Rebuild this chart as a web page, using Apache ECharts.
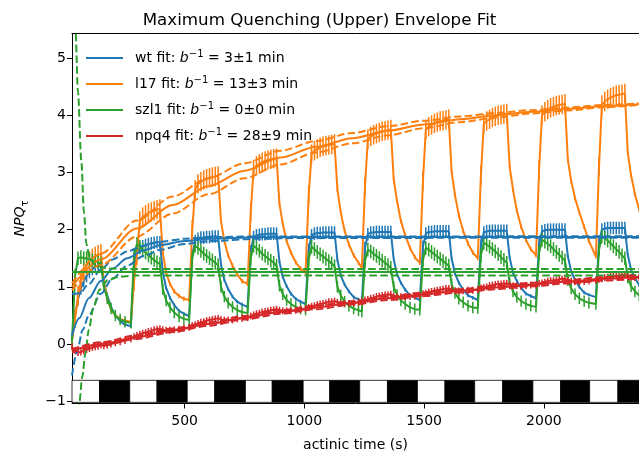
<!DOCTYPE html>
<html>
<head>
<meta charset="utf-8">
<script src="https://cdn.jsdelivr.net/npm/echarts@6/dist/echarts.min.js"></script>
<style>
  html, body { margin: 0; padding: 0; background: #fff; }
  #chart { width: 639px; height: 460px; }
</style>
</head>
<body>
<div id="chart"></div>
<script>
// ---- actinic light protocol (s): light on / light off times ----
const lightOn  = [25, 271, 511, 754, 995, 1231, 1472, 1711, 1954, 2191];
const lightOff = [145, 385, 626, 866, 1106, 1347, 1587, 1828, 2070, 2309];
const protocolEnd = 2440;

// start time of each measured cycle (s) and sample times relative to it
const cycleStart = [25, 271, 514, 758, 1000, 1235, 1477, 1719, 1962, 2212];
const sampleOffsets = [5, 18, 30, 42, 54, 66, 78, 90, 102, 114, 126, 138, 152, 168, 186, 206, 226];

// ---- measured NPQ per cycle (one row per light/dark cycle) ----
const wtValues = [
  [0.12, 0.50, 0.78, 0.97, 1.10, 1.19, 1.26, 1.31, 1.35, 1.38, 1.41, 1.05, 0.85, 0.65, 0.50, 0.40, 0.34],
  [0.31, 1.35, 1.62, 1.68, 1.71, 1.73, 1.75, 1.76, 1.77, 1.78, 1.78, 1.26, 0.98, 0.81, 0.68, 0.58, 0.53],
  [0.49, 1.55, 1.80, 1.84, 1.86, 1.86, 1.87, 1.87, 1.88, 1.88, 1.88, 1.39, 1.12, 0.96, 0.83, 0.74, 0.69],
  [0.65, 1.62, 1.87, 1.90, 1.91, 1.92, 1.92, 1.93, 1.93, 1.93, 1.93, 1.44, 1.17, 1.01, 0.88, 0.79, 0.74],
  [0.70, 1.65, 1.90, 1.93, 1.94, 1.94, 1.95, 1.95, 1.95, 1.95, 1.95, 1.47, 1.20, 1.04, 0.92, 0.82, 0.78],
  [0.74, 1.68, 1.92, 1.95, 1.95, 1.96, 1.96, 1.96, 1.96, 1.96, 1.96, 1.48, 1.22, 1.07, 0.95, 0.85, 0.81],
  [0.77, 1.70, 1.93, 1.96, 1.96, 1.97, 1.97, 1.97, 1.97, 1.97, 1.97, 1.49, 1.23, 1.07, 0.95, 0.85, 0.81],
  [0.77, 1.72, 1.95, 1.97, 1.98, 1.98, 1.98, 1.98, 1.98, 1.98, 1.98, 1.51, 1.25, 1.10, 0.98, 0.88, 0.84],
  [0.80, 1.75, 1.97, 1.99, 2.00, 2.00, 2.00, 2.00, 2.00, 2.00, 2.00, 1.53, 1.27, 1.12, 1.00, 0.90, 0.86],
  [0.82, 1.78, 2.00, 2.02, 2.03, 2.03, 2.03, 2.03, 2.03, 2.03, 2.03, 1.56, 1.30, 1.15, 1.03, 0.93, 0.89]
];
const l17Values = [
  [0.05, 0.45, 0.85, 1.10, 1.27, 1.38, 1.45, 1.50, 1.53, 1.56, 1.58, 1.10, 0.80, 0.60, 0.50, 0.44, 0.41],
  [0.39, 1.10, 1.55, 2.15, 2.22, 2.26, 2.29, 2.31, 2.33, 2.35, 2.36, 1.60, 1.25, 1.05, 0.92, 0.84, 0.79],
  [0.77, 2.00, 2.70, 2.80, 2.84, 2.87, 2.89, 2.91, 2.92, 2.93, 2.94, 2.15, 1.80, 1.55, 1.37, 1.22, 1.10],
  [1.05, 2.30, 3.05, 3.12, 3.15, 3.18, 3.20, 3.22, 3.23, 3.24, 3.25, 2.45, 2.10, 1.80, 1.60, 1.43, 1.32],
  [1.25, 2.60, 3.32, 3.38, 3.41, 3.44, 3.46, 3.47, 3.48, 3.49, 3.50, 2.70, 2.30, 1.98, 1.74, 1.55, 1.42],
  [1.33, 2.75, 3.58, 3.63, 3.66, 3.68, 3.70, 3.72, 3.73, 3.74, 3.75, 2.88, 2.50, 2.15, 1.90, 1.68, 1.52],
  [1.42, 2.85, 3.75, 3.80, 3.83, 3.86, 3.88, 3.90, 3.91, 3.92, 3.93, 3.00, 2.60, 2.25, 1.98, 1.76, 1.60],
  [1.50, 2.95, 3.85, 3.90, 3.93, 3.96, 3.98, 4.00, 4.01, 4.02, 4.03, 3.10, 2.70, 2.33, 2.05, 1.82, 1.66],
  [1.55, 3.05, 4.00, 4.06, 4.10, 4.13, 4.15, 4.17, 4.18, 4.19, 4.20, 3.22, 2.85, 2.55, 2.30, 2.05, 1.80],
  [1.53, 3.10, 4.18, 4.24, 4.28, 4.31, 4.33, 4.35, 4.36, 4.37, 4.38, 3.35, 2.95, 2.62, 2.35, 2.10, 1.85]
];
const szl1Values = [
  [0.05, 1.20, 1.50, 1.52, 1.50, 1.50, 1.48, 1.46, 1.45, 1.43, 1.40, 1.00, 0.80, 0.62, 0.50, 0.43, 0.39],
  [0.37, 1.55, 1.75, 1.70, 1.65, 1.60, 1.55, 1.51, 1.47, 1.43, 1.40, 0.96, 0.76, 0.64, 0.55, 0.48, 0.44],
  [0.42, 1.50, 1.72, 1.68, 1.63, 1.58, 1.54, 1.50, 1.46, 1.42, 1.38, 1.00, 0.83, 0.72, 0.65, 0.59, 0.56],
  [0.54, 1.50, 1.72, 1.68, 1.63, 1.58, 1.54, 1.50, 1.46, 1.42, 1.37, 1.02, 0.87, 0.77, 0.70, 0.65, 0.62],
  [0.60, 1.48, 1.70, 1.66, 1.61, 1.57, 1.53, 1.49, 1.45, 1.41, 1.36, 1.00, 0.85, 0.74, 0.67, 0.62, 0.59],
  [0.57, 1.45, 1.65, 1.62, 1.58, 1.54, 1.50, 1.46, 1.42, 1.38, 1.33, 1.00, 0.86, 0.76, 0.70, 0.64, 0.61],
  [0.60, 1.47, 1.68, 1.65, 1.61, 1.57, 1.53, 1.49, 1.45, 1.41, 1.37, 1.04, 0.89, 0.79, 0.73, 0.67, 0.64],
  [0.63, 1.55, 1.77, 1.74, 1.70, 1.66, 1.62, 1.57, 1.52, 1.47, 1.42, 1.07, 0.92, 0.82, 0.75, 0.70, 0.67],
  [0.65, 1.60, 1.82, 1.79, 1.75, 1.71, 1.66, 1.61, 1.56, 1.51, 1.46, 1.12, 0.97, 0.87, 0.80, 0.75, 0.72],
  [0.70, 1.65, 1.88, 1.85, 1.81, 1.76, 1.71, 1.66, 1.61, 1.55, 1.50, 1.16, 1.01, 0.92, 0.85, 0.80, 0.77]
];
const npq4Values = [
  [-0.05, -0.12, -0.15, -0.14, -0.12, -0.10, -0.08, -0.06, -0.05, -0.04, -0.02, -0.03, -0.02, 0.00, 0.02, 0.04, 0.06],
  [0.09, 0.13, 0.15, 0.17, 0.19, 0.20, 0.22, 0.23, 0.25, 0.26, 0.27, 0.25, 0.24, 0.24, 0.25, 0.26, 0.28],
  [0.29, 0.32, 0.34, 0.36, 0.38, 0.39, 0.41, 0.42, 0.43, 0.44, 0.45, 0.43, 0.42, 0.42, 0.42, 0.44, 0.45],
  [0.46, 0.49, 0.51, 0.53, 0.54, 0.56, 0.57, 0.58, 0.59, 0.60, 0.61, 0.59, 0.58, 0.58, 0.58, 0.59, 0.60],
  [0.61, 0.64, 0.66, 0.67, 0.69, 0.70, 0.71, 0.72, 0.74, 0.74, 0.75, 0.73, 0.71, 0.71, 0.71, 0.72, 0.73],
  [0.74, 0.77, 0.78, 0.80, 0.81, 0.83, 0.84, 0.85, 0.86, 0.86, 0.87, 0.84, 0.83, 0.83, 0.83, 0.83, 0.84],
  [0.85, 0.88, 0.89, 0.91, 0.92, 0.93, 0.94, 0.95, 0.96, 0.97, 0.97, 0.95, 0.93, 0.93, 0.93, 0.94, 0.94],
  [0.95, 0.98, 0.99, 1.00, 1.02, 1.03, 1.04, 1.05, 1.05, 1.06, 1.06, 1.04, 1.02, 1.02, 1.01, 1.02, 1.03],
  [1.03, 1.06, 1.07, 1.08, 1.10, 1.11, 1.11, 1.12, 1.13, 1.14, 1.14, 1.11, 1.10, 1.09, 1.09, 1.09, 1.10],
  [1.11, 1.13, 1.14, 1.16, 1.17, 1.18, 1.19, 1.19, 1.20, 1.21, 1.21, 1.18, 1.17, 1.16, 1.16, 1.16, 1.17]
];

// error-bar half widths: [during light, during dark]
const wtErr   = [0.11, 0.03];
const l17Err  = [0.17, 0.04];
const szl1Err = [0.12, 0.10];
const npq4Err = [0.06, 0.06];

// ---- upper-envelope fits [t, NPQ] with lower / upper confidence curves ----
const wtFit   = [[30,0.15],[60,0.45],[100,0.80],[150,1.10],[200,1.32],[260,1.50],[330,1.64],[400,1.73],[500,1.80],[600,1.84],[800,1.865],[1000,1.87],[2440,1.87]];
const wtFitLo = [[30,-0.55],[50,-0.15],[75,0.25],[100,0.50],[150,0.88],[200,1.15],[260,1.37],[330,1.54],[400,1.65],[500,1.75],[600,1.80],[800,1.84],[1000,1.855],[2440,1.86]];
const wtFitHi = [[30,0.88],[50,0.88],[65,0.90],[100,1.05],[150,1.30],[200,1.48],[260,1.62],[330,1.72],[400,1.79],[500,1.84],[600,1.87],[800,1.88],[2440,1.885]];

const l17Fit   = [[30,1.00],[150,1.48],[300,2.02],[450,2.43],[600,2.76],[750,3.03],[900,3.26],[1050,3.45],[1200,3.60],[1350,3.73],[1500,3.84],[1650,3.93],[1800,4.00],[1950,4.06],[2100,4.11],[2250,4.16],[2440,4.21]];
const l17FitHi = [[30,1.06],[150,1.58],[300,2.16],[450,2.58],[600,2.90],[750,3.16],[900,3.38],[1050,3.55],[1200,3.69],[1350,3.81],[1500,3.905],[1650,3.98],[1800,4.04],[1950,4.09],[2100,4.135],[2250,4.18],[2440,4.22]];
const l17FitLo = [[30,0.94],[150,1.38],[300,1.88],[450,2.28],[600,2.62],[750,2.90],[900,3.14],[1050,3.35],[1200,3.51],[1350,3.65],[1500,3.775],[1650,3.88],[1800,3.96],[1950,4.03],[2100,4.085],[2250,4.14],[2440,4.20]];

const szl1Fit   = [[30,1.26],[2440,1.26]];
const szl1FitHi = [[38,7.5],[45,5.43],[55,4.40],[69,3.20],[80,2.30],[90,1.75],[104,1.50],[130,1.37],[180,1.32],[260,1.31],[2440,1.31]];
const szl1FitLo = [[50,-2.5],[60,-1.05],[73,-0.57],[86,-0.16],[100,0.25],[120,0.65],[145,0.95],[180,1.12],[230,1.18],[300,1.20],[2440,1.20]];

const npq4Fit   = [[30,-0.12],[150,0.00],[300,0.12],[450,0.24],[600,0.35],[750,0.46],[900,0.56],[1050,0.64],[1200,0.72],[1350,0.80],[1500,0.87],[1650,0.93],[1800,0.99],[1950,1.04],[2100,1.09],[2250,1.14],[2440,1.19]];
const npq4FitHi = [[30,-0.09],[150,0.03],[300,0.15],[450,0.27],[600,0.38],[750,0.49],[900,0.59],[1050,0.67],[1200,0.75],[1350,0.83],[1500,0.90],[1650,0.96],[1800,1.02],[1950,1.07],[2100,1.12],[2250,1.17],[2440,1.22]];
const npq4FitLo = [[30,-0.15],[150,-0.03],[300,0.09],[450,0.21],[600,0.32],[750,0.43],[900,0.53],[1050,0.61],[1200,0.69],[1350,0.77],[1500,0.84],[1650,0.90],[1800,0.96],[1950,1.01],[2100,1.06],[2250,1.11],[2440,1.16]];

// ---- labels ----
const genotypes = ['wt', 'l17', 'szl1', 'npq4'];
const lifetimes = ['3±1', '13±3', '0±0', '28±9'];
const colors = ['#1f77b4', '#ff7f0e', '#2ca02c', '#d62728'];
const xTicks = [500, 1000, 1500, 2000];
const yTicks = [-1, 0, 1, 2, 3, 4, 5];

const X_MIN = 30, X_MAX = 2397;
const Y_MIN = -1.04, Y_MAX = 5.43;
const BAR_TOP = -0.635, BAR_BOTTOM = -1.02;
const FONT = 'DejaVu Sans';

function buildSeries(values, err) {
  const line = [], bars = [];
  values.forEach((cycle, k) => {
    cycle.forEach((v, j) => {
      const t = cycleStart[k] + sampleOffsets[j];
      line.push([t, v]);
      const e = (j >= 1 && j <= 10) ? err[0] : err[1];
      bars.push([t, v - e, v + e]);
    });
  });
  return { line, bars };
}

const measured = [
  buildSeries(wtValues, wtErr),
  buildSeries(l17Values, l17Err),
  buildSeries(szl1Values, szl1Err),
  buildSeries(npq4Values, npq4Err)
];
const fits = [
  [wtFit, wtFitLo, wtFitHi],
  [l17Fit, l17FitLo, l17FitHi],
  [szl1Fit, szl1FitLo, szl1FitHi],
  [npq4Fit, npq4FitLo, npq4FitHi]
];
const fitNames = genotypes.map(g => g + ' fit');

// light / dark strip along the bottom
const strip = [];
lightOn.forEach((on, k) => {
  strip.push([on, lightOff[k], 0]);
  strip.push([lightOff[k], k + 1 < lightOn.length ? lightOn[k + 1] : protocolEnd, 1]);
});

function clampX(v) { return Math.max(X_MIN, Math.min(X_MAX, v)); }

const series = [];
series.push({
  type: 'custom', name: 'light', silent: true, z: 1,
  data: strip,
  renderItem(params, api) {
    const a = api.coord([clampX(api.value(0)), BAR_TOP]);
    const b = api.coord([clampX(api.value(1)), BAR_BOTTOM]);
    const dark = api.value(2) === 1;
    return {
      type: 'rect',
      shape: { x: a[0], y: a[1], width: b[0] - a[0], height: b[1] - a[1] },
      style: { fill: dark ? '#000' : '#fff', stroke: '#000', lineWidth: 0.8 }
    };
  }
});

genotypes.forEach((g, i) => {
  const c = colors[i];
  series.push({
    type: 'line', name: g, data: measured[i].line, symbol: 'none', showSymbol: false,
    lineStyle: { color: c, width: 2 }, itemStyle: { color: c }, z: 3 + i, silent: true
  });
  series.push({
    type: 'custom', name: g + ' err', data: measured[i].bars, silent: true, z: 3 + i,
    renderItem(params, api) {
      const a = api.coord([api.value(0), api.value(1)]);
      const b = api.coord([api.value(0), api.value(2)]);
      return { type: 'line', shape: { x1: a[0], y1: a[1], x2: b[0], y2: b[1] },
               style: { stroke: c, lineWidth: 1.5 } };
    }
  });
  const [fit, lo, hi] = fits[i];
  series.push({
    type: 'line', name: fitNames[i], data: fit, symbol: 'none', showSymbol: false,
    smooth: 0.3, smoothMonotone: 'x',
    lineStyle: { color: c, width: 2 }, itemStyle: { color: c }, z: 8 + i, silent: true
  });
  [lo, hi].forEach(b => series.push({
    type: 'line', name: g + ' bound', data: b, symbol: 'none', showSymbol: false,
    smooth: 0.3, smoothMonotone: 'x',
    lineStyle: { color: c, width: 2, type: [7.5, 3.3] }, itemStyle: { color: c }, z: 8 + i, silent: true
  }));
});

const chart = echarts.init(document.getElementById('chart'), null, { renderer: 'canvas' });
const minus = v => String(v).replace('-', '\u2212');

chart.setOption({
  animation: false,
  backgroundColor: '#fff',
  title: {
    text: 'Maximum Quenching (Upper) Envelope Fit',
    left: 'center', top: 7,
    textStyle: { fontFamily: FONT, fontSize: 16.7, fontWeight: 'normal', color: '#000' }
  },
  grid: { left: 72, top: 33.5, right: 0, height: 370 },
  legend: {
    data: fitNames.map(n => ({ name: n, icon: 'rect' })),
    orient: 'vertical', left: 86, top: 49, padding: 0,
    itemWidth: 37, itemHeight: 2, itemGap: 10,
    formatter: name => {
      const i = fitNames.indexOf(name);
      return '{p|}{t|' + genotypes[i] + ' fit: }{b|b}{s|\u22121}{t| = ' + lifetimes[i] + ' min}';
    },
    textStyle: {
      fontFamily: FONT, fontSize: 14, color: '#000',
      rich: {
        p: { width: 7 },
        t: { fontFamily: FONT, fontSize: 14, color: '#000', lineHeight: 18 },
        b: { fontFamily: FONT, fontSize: 14, fontStyle: 'italic', color: '#000', lineHeight: 18 },
        s: { fontFamily: FONT, fontSize: 10, color: '#000', verticalAlign: 'top', lineHeight: 12 }
      }
    }
  },
  xAxis: [{
    type: 'value', min: X_MIN, max: X_MAX,
    name: 'actinic time (s)', nameLocation: 'middle', nameGap: 35,
    nameTextStyle: { fontFamily: FONT, fontSize: 14, color: '#000' },
    axisLine: { show: true, onZero: false, lineStyle: { color: '#000', width: 1 } },
    axisTick: { show: true, length: 5, lineStyle: { color: '#000' }, customValues: xTicks },
    axisLabel: { fontFamily: FONT, fontSize: 14, color: '#000', margin: 11, customValues: xTicks,
                 formatter: v => String(v) },
    splitLine: { show: false }
  }, {
    type: 'value', min: X_MIN, max: X_MAX, position: 'top',
    axisLine: { show: true, onZero: false, lineStyle: { color: '#000', width: 1 } },
    axisTick: { show: false }, axisLabel: { show: false }, splitLine: { show: false }
  }],
  yAxis: {
    type: 'value', min: Y_MIN, max: Y_MAX,
    name: '{i|NPQ}{u|\u03c4}', nameLocation: 'middle', nameGap: 42, nameRotate: 90,
    nameTextStyle: {
      rich: {
        i: { fontFamily: FONT, fontSize: 14, fontStyle: 'italic', color: '#000', lineHeight: 20 },
        u: { fontFamily: FONT, fontSize: 10, color: '#000', verticalAlign: 'bottom', lineHeight: 12 }
      }
    },
    axisLine: { show: true, onZero: false, lineStyle: { color: '#000', width: 1 } },
    axisTick: { show: true, length: 5, lineStyle: { color: '#000' }, customValues: yTicks },
    axisLabel: { fontFamily: FONT, fontSize: 14, color: '#000', margin: 6, customValues: yTicks,
                 formatter: minus },
    splitLine: { show: false }
  },
  series
});
</script>
</body>
</html>
